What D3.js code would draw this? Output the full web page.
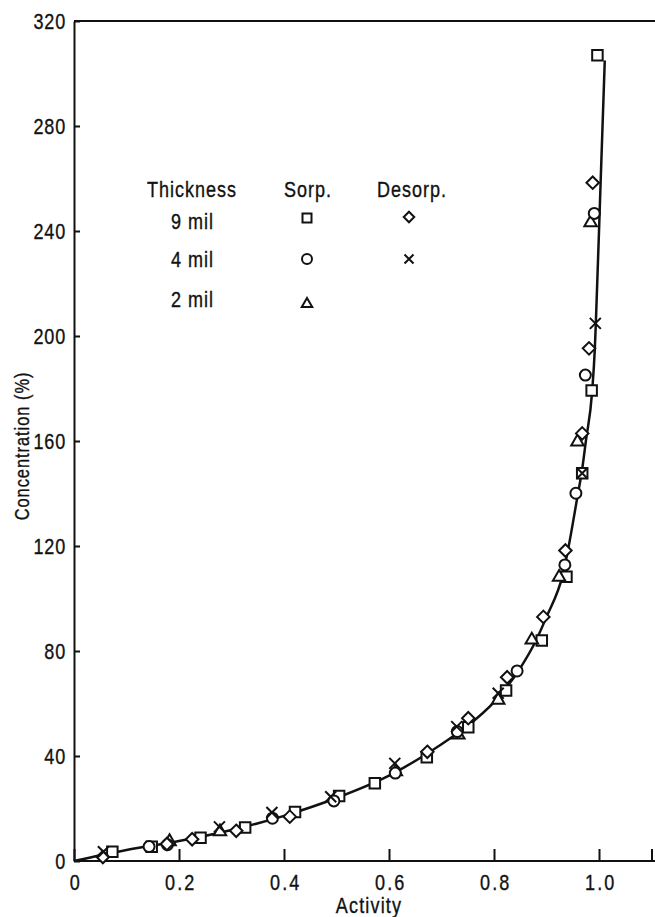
<!DOCTYPE html>
<html>
<head>
<meta charset="utf-8">
<script src="https://cdn.jsdelivr.net/npm/d3@7/dist/d3.min.js"></script>
<style>
  html, body { margin: 0; padding: 0; background: #fff; }
  svg { display: block; }
  text { font-family: "Liberation Sans", Arial, sans-serif; fill: #111; stroke: #111; stroke-width: 0.35px; }
</style>
</head>
<body>
<div id="chart"></div>
<script>
// Sorption / desorption isotherm: concentration (%) versus activity
// for films of three thicknesses.

// ---- data: [activity, concentration %] ----
const sorp9mil = [
  [0.073, 3.5], [0.148, 5.4], [0.241, 8.9], [0.326, 12.8], [0.421, 18.7],
  [0.505, 24.8], [0.573, 29.6], [0.672, 39.5], [0.751, 51.0], [0.823, 65.0],
  [0.891, 84.0], [0.938, 108.3], [0.968, 147.7], [0.986, 179.2], [0.997, 307.0]
];
const desorp9mil = [
  [0.055, 1.5], [0.177, 6.5], [0.225, 8.3], [0.309, 11.5], [0.411, 16.9],
  [0.673, 41.6], [0.751, 54.4], [0.825, 70.0], [0.894, 93.0], [0.936, 118.3],
  [0.968, 162.9], [0.981, 195.3], [0.988, 258.4]
];
const sorp4mil = [
  [0.143, 5.5], [0.178, 6.2], [0.378, 16.3], [0.495, 22.9], [0.612, 33.5],
  [0.730, 49.3], [0.844, 72.4], [0.935, 112.8], [0.956, 140.1], [0.974, 185.1],
  [0.991, 246.7]
];
const desorp4mil = [
  [0.056, 3.5], [0.277, 13.0], [0.377, 18.5], [0.489, 24.5], [0.611, 37.2],
  [0.729, 51.2], [0.808, 63.9], [0.968, 147.7], [0.993, 204.8]
];
const sorp2mil = [
  [0.182, 7.4], [0.278, 11.2], [0.613, 34.0], [0.732, 48.0], [0.808, 61.3],
  [0.872, 84.2], [0.924, 108.1], [0.959, 159.7], [0.984, 243.2]
];

// smooth isotherm drawn through the points
const curveActivity = [0, 0.1, 0.2, 0.3, 0.4, 0.5, 0.6, 0.7, 0.75, 0.8, 0.85, 0.88,
  0.9, 0.931, 0.96, 0.967, 0.975, 0.987, 0.992, 0.994, 1.003, 1.011];
const curveConc = [0, 4.2, 7.6, 11.8, 17.2, 24, 32.5, 44.5, 51.5, 60.5, 73.5, 84,
  93, 109, 140, 148, 160, 179, 195, 205, 258, 305];

// axis ticks
const xTickValues = [0, 0.2, 0.4, 0.6, 0.8, 1.0, 1.1];
const xTickLabels = ["0", "0.2", "0.4", "0.6", "0.8", "1.0", ""];
const yTickValues = [0, 40, 80, 120, 160, 200, 240, 280, 320];

// legend rows
const legendRows = ["9 mil", "4 mil", "2 mil"];

// ---- layout ----
const W = 655, H = 917;
const NARROW = 0.82;   // horizontal squeeze giving a condensed face
const x = d3.scaleLinear().domain([0, 1.1]).range([74, 651.5]);
const y = d3.scaleLinear().domain([0, 320]).range([861, 21]);

const svg = d3.select("#chart").append("svg")
  .attr("width", W).attr("height", H);

// condensed text placed at (tx, ty)
function label(parent, tx, ty, str, size, spacing, anchor, rot) {
  return parent.append("text")
    .attr("transform", `translate(${tx},${ty})${rot ? ` rotate(${rot})` : ""} scale(${NARROW},1)`)
    .attr("text-anchor", anchor || "start")
    .style("font-size", size + "px")
    .style("letter-spacing", spacing + "px")
    .text(str);
}

// marker shapes
function shape(kind, s) {
  switch (kind) {
    case "square": return d3.symbol(d3.symbolSquare, s * s)();
    case "circle": return d3.symbol(d3.symbolCircle, Math.PI * s * s / 4)();
    case "diamond": { const h = s / 2; return `M0,${-h}L${h},0L0,${h}L${-h},0Z`; }
    case "triangle": { const h = s * Math.sqrt(3) / 2;
      return `M0,${-2 * h / 3}L${s / 2},${h / 3}L${-s / 2},${h / 3}Z`; }
    case "cross": { const h = s / 2; return `M${-h},${-h}L${h},${h}M${-h},${h}L${h},${-h}`; }
  }
}

// frame: top border
svg.append("line")
  .attr("x1", x(0)).attr("x2", W).attr("y1", y(320)).attr("y2", y(320))
  .attr("stroke", "#111").attr("stroke-width", 2);

// y axis, ticks pointing inward
const yAxis = svg.append("g")
  .attr("transform", `translate(${x(0)},0)`)
  .call(d3.axisLeft(y).tickValues(yTickValues).tickSizeInner(-6).tickSizeOuter(0));
yAxis.select(".domain").attr("stroke", "#111").attr("stroke-width", 2);
yAxis.selectAll(".tick line").attr("stroke", "#111").attr("stroke-width", 2);
yAxis.selectAll(".tick text")
  .attr("x", -8 / NARROW).attr("dy", "0.36em")
  .attr("transform", `scale(${NARROW},1)`)
  .style("font-size", "22px").style("letter-spacing", "1px");

// x axis, ticks pointing upward
const xAxis = svg.append("g")
  .attr("transform", `translate(0,${y(0)})`)
  .call(d3.axisBottom(x).tickValues(xTickValues)
    .tickFormat((d, i) => xTickLabels[i]).tickSizeInner(-12).tickSizeOuter(0));
xAxis.select(".domain").attr("stroke", "#111").attr("stroke-width", 2)
  .attr("d", `M${x(0)},0H${W}`);
xAxis.selectAll(".tick line").attr("stroke", "#111").attr("stroke-width", 2);
xAxis.selectAll(".tick text")
  .attr("y", 29).attr("dy", 0)
  .attr("transform", `scale(${NARROW},1)`)
  .attr("x", 1.2 / NARROW)   // keep the label centred on its tick after the squeeze
  .style("font-size", "22px").style("letter-spacing", "2.5px");

// axis titles
label(svg, 369, 913, "Activity", 22, 1.4, "middle");
label(svg, 29, 446, "Concentration (%)", 20, 1.2, "middle", -90);

// isotherm curve
const curvePts = curveActivity.map((a, i) => [a, curveConc[i]]);
svg.append("path")
  .datum(curvePts)
  .attr("fill", "none").attr("stroke", "#111").attr("stroke-width", 2.5)
  .attr("d", d3.line().x(d => x(d[0])).y(d => y(d[1])).curve(d3.curveMonotoneX));

// data markers
const series = [
  { data: sorp9mil, kind: "square", size: 10.5 },
  { data: sorp2mil, kind: "triangle", size: 12.5 },
  { data: sorp4mil, kind: "circle", size: 11 },
  { data: desorp9mil, kind: "diamond", size: 12.5 },
  { data: desorp4mil, kind: "cross", size: 11 }
];
series.forEach(s => {
  svg.append("g").selectAll("path")
    .data(s.data).join("path")
    .attr("transform", d => `translate(${x(d[0])},${y(d[1])})`)
    .attr("d", shape(s.kind, s.size))
    .attr("fill", s.kind === "cross" ? "none" : "#fff")
    .attr("stroke", "#111").attr("stroke-width", 2);
});

// legend
const lg = svg.append("g");
label(lg, 147, 197, "Thickness", 22, 1.2);
label(lg, 284, 197, "Sorp.", 22, 1.2);
label(lg, 377, 197, "Desorp.", 22, 1.2);
const rowY = [229, 267, 307];
legendRows.forEach((r, i) => label(lg, 171, rowY[i], r, 22, 1.2));
const legendMarks = [
  { kind: "square", cx: 307, cy: 218, size: 9 },
  { kind: "diamond", cx: 409, cy: 217, size: 10.5 },
  { kind: "circle", cx: 307, cy: 259, size: 10 },
  { kind: "cross", cx: 409, cy: 259, size: 9 },
  { kind: "triangle", cx: 307, cy: 304, size: 10.5 }
];
lg.selectAll("path").data(legendMarks).join("path")
  .attr("transform", d => `translate(${d.cx},${d.cy})`)
  .attr("d", d => shape(d.kind, d.size))
  .attr("fill", d => d.kind === "cross" ? "none" : "#fff")
  .attr("stroke", "#111").attr("stroke-width", 2);
</script>
</body>
</html>
